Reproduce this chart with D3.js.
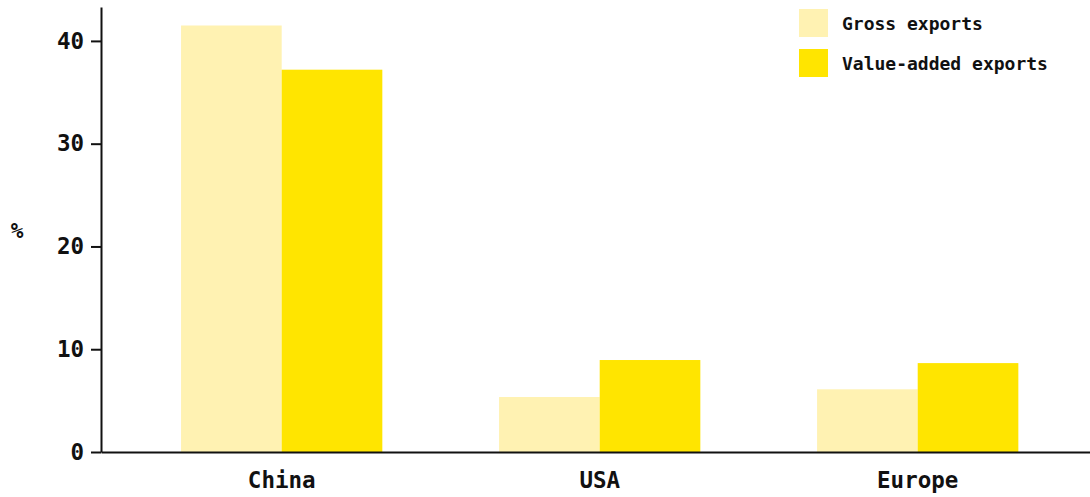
<!DOCTYPE html>
<html>
<head>
<meta charset="utf-8">
<script src="https://cdn.jsdelivr.net/npm/d3@7"></script>
<style>
  body { margin: 0; background: #fff; }
  text { font-family: "DejaVu Sans Mono", monospace; fill: #111; }
  .axis text { font-size: 22.5px; font-weight: bold; }
  .axis path, .axis line { stroke: #111; stroke-width: 2; }
  .legend text { font-size: 18px; font-weight: bold; }
</style>
</head>
<body>
<div class="bar-chart-container"></div>
<script>
// data
const regions = ['China', 'USA', 'Europe'];
const seriesNames = ['Gross exports', 'Value-added exports'];
const grossExports = [41.5, 5.35, 6.1];
const valueAddedExports = [37.2, 8.95, 8.65];
const yTicks = [0, 10, 20, 30, 40];
const colours = ['#fff2b2', '#ffe500'];

const rows = regions.map((r, i) => ({region: r, values: [grossExports[i], valueAddedExports[i]]}));

const svg_width = 1090;
const svg_height = 497;
const margin = {top: 7, right: 0, bottom: 45, left: 101};
const chart_width = svg_width - margin.left - margin.right;
const chart_height = svg_height - margin.top - margin.bottom;

const svg = d3.select('.bar-chart-container').append('svg')
    .attr('width', svg_width).attr('height', svg_height);
const g = svg.append('g').attr('transform', `translate(${margin.left},${margin.top})`);

// scales
const x0 = d3.scaleBand().domain(regions).range([0, chart_width])
    .paddingInner(0).paddingOuter(0.055).align(0.62);
const x1 = d3.scaleBand().domain(seriesNames).range([0, x0.bandwidth()])
    .paddingInner(0).paddingOuter(0.58);
const y = d3.scaleLinear().domain([0, 43.3]).range([chart_height, 0]);

// bars
const groups = g.selectAll('.group').data(rows).enter().append('g')
    .attr('class', 'group')
    .attr('transform', d => `translate(${x0(d.region)},0)`);
groups.selectAll('rect')
    .data(d => d.values.map((v, i) => ({key: seriesNames[i], value: v, i: i})))
    .enter().append('rect')
    .attr('x', d => x1(d.key))
    .attr('y', d => y(d.value))
    .attr('width', x1.bandwidth())
    .attr('height', d => y(0) - y(d.value))
    .style('fill', d => colours[d.i]);

// axes
const xAxis = d3.axisBottom(x0).tickSize(0).tickSizeOuter(0).tickPadding(20);
g.append('g').attr('class', 'x axis')
    .attr('transform', `translate(0,${chart_height})`)
    .call(xAxis);

const yAxis = d3.axisLeft(y).tickValues(yTicks).tickSize(10).tickSizeOuter(0).tickPadding(7);
g.append('g').attr('class', 'y axis').call(yAxis);

// y label
svg.append('text')
    .attr('x', 17).attr('y', 232)
    .attr('text-anchor', 'middle').attr('dominant-baseline', 'middle')
    .style('font-size', '21px').style('font-weight', 'bold')
    .text('%');

// legend
const legend = svg.append('g').attr('class', 'legend')
    .attr('transform', 'translate(799,9)');
const items = legend.selectAll('.item').data(seriesNames).enter().append('g')
    .attr('class', 'item')
    .attr('transform', (d, i) => `translate(0,${i * 40})`);
items.append('rect').attr('width', 29).attr('height', 28)
    .style('fill', (d, i) => colours[i]);
items.append('text').attr('x', 43).attr('y', 15.5)
    .attr('dominant-baseline', 'middle')
    .text(d => d);
</script>
</body>
</html>
